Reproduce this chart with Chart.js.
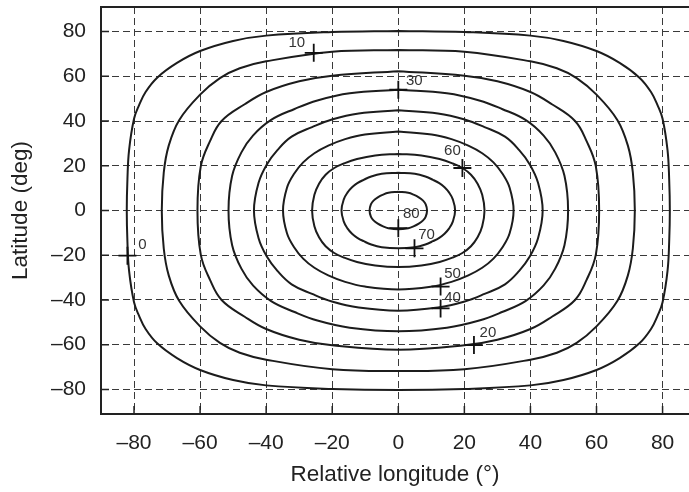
<!DOCTYPE html>
<html>
<head>
<meta charset="utf-8">
<title>Elevation contours</title>
<script src="https://cdn.jsdelivr.net/npm/chart.js@4.4.1/dist/chart.umd.min.js"></script>
<style>
html,body{margin:0;padding:0;background:#fff;overflow:hidden;}
canvas{display:block;}
</style>
</head>
<body>
<canvas id="chart" width="689" height="492"></canvas>
<script>

// =========================
// Data
// one quadrant per contour: [lon, lat], lon >= 0, lat >= 0
// =========================

const lonTicks = [-80,-60,-40,-20,0,20,40,60,80];
const latTicks = [-80,-60,-40,-20,0,20,40,60,80];

const contour0  = [[0,80.3],[20,79.8],[40,78.2],[50,75.8],[60,71.3],[67,66],[73,59.4],[76.5,53],[78.5,47],[80,41],[81.5,27],[82,14],[82.2,0]];
const contour10 = [[0,71.8],[20,71],[40,66.7],[48,63.6],[54,59.2],[60,51.8],[66.3,40.5],[69.5,29],[71,17],[71.6,0]];
const contour20 = [[0,62.3],[20,60.3],[30,57.8],[40,53],[46.5,47.5],[53.5,40],[57,31],[59.8,19.7],[60.8,0]];
const contour30 = [[0,54],[14.7,52.4],[24.5,49.2],[31.4,45.4],[38.5,40.5],[44,33.5],[47.5,26],[50.3,15.5],[51.4,0]];
const contour40 = [[0,44.8],[12,43.4],[20.1,40.7],[26.1,37.3],[32.3,33],[36.6,27],[39.8,20.6],[42.3,12.4],[43.7,0]];
const contour50 = [[0,35.3],[10.1,34],[16.1,31.9],[21.2,29],[25.4,25.6],[28.8,21.5],[31.6,16.3],[33.7,10.2],[34.9,0]];
const contour60 = [[0,25.3],[7,24.6],[12.5,23],[16.5,21],[19.4,19],[22,16],[24,12],[25.4,7],[26.1,0]];
const contour70 = [[0,16.9],[5,16.4],[8.2,15.2],[10.5,13.7],[12.4,12.2],[14,10.4],[15.4,8],[16.5,5],[17.2,0]];
const contour80 = [[0,8.4],[3,7.9],[4.6,7.1],[6.2,5.9],[7.5,4.4],[8.3,2.7],[8.7,0]];

const contours = [contour0,contour10,contour20,contour30,contour40,contour50,contour60,contour70,contour80];

// marked points on each contour
const markerText = ['0','10','20','30','40','50','60','70','80'];
const markerLon  = [-82,-25.6,22.9,0,12.8,12.8,19.4,4.9,0];
const markerLat  = [-20.2,70.5,-60.2,54,-43.8,-34,19,-16.9,-7.9];


// =========================
// Build closed loops from one quadrant (plot is symmetric)
// =========================

function closeLoop(q){

    const pts=[];

    q.forEach(p=>pts.push({x:p[0],y:p[1]}));
    q.slice(0,-1).reverse().forEach(p=>pts.push({x:p[0],y:-p[1]}));
    q.slice(1).forEach(p=>pts.push({x:-p[0],y:-p[1]}));
    q.slice(0,-1).reverse().forEach(p=>pts.push({x:-p[0],y:p[1]}));

    return pts;

}

function fmt(v){
    return v<0 ? "\u2013"+Math.abs(v) : String(v);
}


// =========================
// Frame, inner ticks, contour labels
// =========================

// label placement relative to its marker, px
const labelOffsets = [[15,-11],[-17,-10],[14,-12],[16,-9],[12,-11],[12,-13],[-10,-17],[12,-13],[13,-14]];

const framePlugin = {

    id:"frame",

    afterDraw(chart){

        const {ctx, chartArea:a, scales:{x,y}} = chart;

        ctx.save();

        // left, top, bottom (right edge is cut off by the picture)
        ctx.strokeStyle="#222";
        ctx.lineWidth=2;
        ctx.beginPath();
        ctx.moveTo(a.right+2,a.top);
        ctx.lineTo(a.left,a.top);
        ctx.lineTo(a.left,a.bottom);
        ctx.lineTo(a.right+2,a.bottom);
        ctx.stroke();

        ctx.lineWidth=1.5;
        ctx.beginPath();
        lonTicks.forEach(v=>{
            const px=x.getPixelForValue(v);
            ctx.moveTo(px,a.bottom);
            ctx.lineTo(px,a.bottom-8);
        });
        latTicks.forEach(v=>{
            const py=y.getPixelForValue(v);
            ctx.moveTo(a.left,py);
            ctx.lineTo(a.left+8,py);
        });
        ctx.stroke();

        ctx.font='15px "Liberation Sans", Arial, sans-serif';
        ctx.fillStyle="#333";
        ctx.textAlign="center";
        ctx.textBaseline="middle";

        markerText.forEach((t,i)=>{
            const off=labelOffsets[i];
            ctx.fillText(t,
                x.getPixelForValue(markerLon[i])+off[0],
                y.getPixelForValue(markerLat[i])+off[1]);
        });

        ctx.restore();

    }

};


// =========================
// Chart
// =========================

Chart.defaults.font.family='"Liberation Sans", Arial, Helvetica, sans-serif';
Chart.defaults.color="#222";

const datasets = [{
    label:"markers",
    data:markerLon.map((v,i)=>({x:v,y:markerLat[i]})),
    showLine:false,
    pointStyle:"cross",
    pointRadius:9,
    pointBorderWidth:1.8,
    borderColor:"#111",
    backgroundColor:"#111"
}];

contours.forEach((q,i)=>{
    datasets.push({
        label:"E"+markerText[i],
        data:closeLoop(q),
        showLine:true,
        fill:false,
        tension:0.4,
        borderColor:"#1c1c1c",
        borderWidth:2,
        pointRadius:0
    });
});

const ctx=document.getElementById("chart").getContext("2d");

new Chart(ctx,{

    type:"scatter",

    data:{datasets:datasets},

    options:{

        responsive:false,
        animation:false,

        layout:{autoPadding:false,padding:{top:7,right:0,left:0,bottom:0}},

        plugins:{
            legend:{display:false},
            tooltip:{enabled:false}
        },

        scales:{

            x:{
                type:"linear",
                min:-90,
                max:88,
                afterBuildTicks:s=>{ s.ticks=lonTicks.map(v=>({value:v})); },
                afterFit:s=>{ s.height=78; s.paddingLeft=0; s.paddingRight=0; },
                grid:{color:"#3a3a3a",lineWidth:1,drawTicks:false},
                border:{display:false,dash:[7,4]},
                ticks:{padding:17,font:{size:21},color:"#222",callback:fmt,maxRotation:0,autoSkip:false},
                title:{display:true,text:"Relative longitude (°)",font:{size:22.5},color:"#222",padding:{top:0,bottom:4}}
            },

            y:{
                type:"linear",
                min:-91,
                max:91,
                afterBuildTicks:s=>{ s.ticks=latTicks.map(v=>({value:v})); },
                afterFit:s=>{ s.width=101; s.paddingTop=0; s.paddingBottom=0; },
                grid:{color:"#3a3a3a",lineWidth:1,drawTicks:false},
                border:{display:false,dash:[7,4]},
                ticks:{padding:15,font:{size:21},color:"#222",callback:fmt,autoSkip:false},
                title:{display:true,text:"Latitude (deg)",font:{size:22.5},color:"#222",padding:{top:7,bottom:0}}
            }

        }

    },

    plugins:[framePlugin]

});

</script>
</body>
</html>
